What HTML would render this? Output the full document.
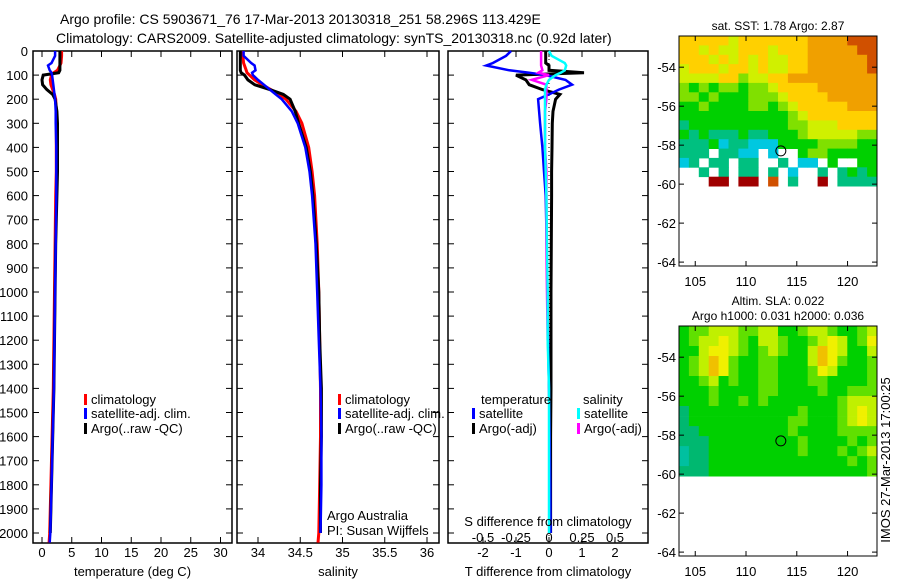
<!DOCTYPE html>
<html><head><meta charset="utf-8">
<style>
body{margin:0;background:#fff;}
svg{display:block;font-family:"Liberation Sans",sans-serif;}
text{font-size:13px;fill:#000;}
</style></head>
<body>
<svg id="fig" width="900" height="580" viewBox="0 0 900 580">
<text x="60" y="24" style="font-size:14px">Argo profile: CS 5903671_76 17-Mar-2013 20130318_251 58.296S 113.429E</text>
<text x="56" y="43" style="font-size:14px">Climatology: CARS2009. Satellite-adjusted climatology: synTS_20130318.nc (0.92d later)</text>
<g id="plots"></g>
</svg>
<script>
// ---------- profile data ----------
const depthT = [0,20,50,60,80,90,100,120,140,160,180,200,250,300,400,500,600,800,1000,1200,1400,1600,1800,2000,2040];
const tempClim = [3.3,3.3,3.2,3.0,2.6,2.0,1.6,1.4,1.5,1.8,2.1,2.3,2.4,2.4,2.4,2.4,2.3,2.2,2.1,2.0,1.9,1.7,1.5,1.3,1.2];
const tempSat  = [2.2,2.2,1.6,1.0,1.3,1.6,1.7,1.8,1.9,2.0,2.1,2.2,2.3,2.3,2.4,2.4,2.4,2.3,2.2,2.1,2.0,1.8,1.6,1.4,1.3];
const tempArgo = [3.0,3.0,3.0,3.0,3.0,2.8,0.2,0.0,0.1,0.8,1.8,2.2,2.5,2.6,2.6,2.6,2.5,2.3,2.2,2.1,2.0,1.8,1.6,1.4,null];
const salClim = [33.82,33.82,33.83,33.84,33.86,33.87,33.9,33.96,34.05,34.15,34.25,34.33,34.45,34.52,34.6,34.64,34.67,34.7,34.72,34.73,34.74,34.74,34.73,34.72,34.71];
const salSat  = [33.83,33.83,33.92,33.96,33.97,33.93,33.94,34.0,34.07,34.14,34.21,34.28,34.4,34.47,34.56,34.61,34.64,34.68,34.7,34.72,34.74,34.75,34.75,34.74,null];
const salArgo = [33.79,33.79,33.79,33.79,33.79,33.8,33.84,33.88,33.96,34.14,34.3,34.38,34.44,34.48,34.57,34.62,34.65,34.69,34.72,34.73,34.75,34.75,34.74,34.74,null];
const dTsat  = [-1.15,-1.3,-1.7,-1.9,-1.2,-0.6,-0.1,0.5,0.7,0.3,0.0,-0.33,-0.3,-0.27,-0.2,-0.15,-0.1,-0.07,-0.05,-0.03,0.0,0.02,0.04,0.05,null];
const dTargo = [-0.1,-0.1,-0.1,0.0,0.0,1.06,-1.0,-0.7,-0.6,-0.2,0.33,0.2,0.12,0.1,0.09,0.08,0.08,0.07,0.06,0.06,0.06,0.05,0.05,0.05,null];
const dSsat  = [0.0,0.02,0.12,0.13,0.12,0.09,0.05,0.0,-0.02,-0.03,-0.03,-0.03,-0.03,-0.03,-0.03,-0.025,-0.02,-0.015,-0.01,-0.01,0.0,0.0,0.0,0.0,null];
const dSargo = [-0.06,-0.06,-0.06,-0.06,-0.05,-0.08,0.0,-0.13,-0.02,-0.02,-0.02,-0.02,-0.03,-0.03,-0.03,-0.02,-0.02,-0.02,-0.015,-0.01,null,null,null,null,null];
const depthTicks = [0,100,200,300,400,500,600,700,800,900,1000,1100,1200,1300,1400,1500,1600,1700,1800,1900,2000];
const tempTicks = [0,5,10,15,20,25,30];
const salTicks = [34,34.5,35,35.5,36];
const salTickLabels = ["34","34.5","35","35.5","36"];
const dTTicks = [-2,-1,0,1,2];
const dSTicks = [-0.5,-0.25,0,0.25,0.5];
const dSTickLabels = ["-0.5","-0.25","0","0.25","0.5"];
// ---------- map data (0-9 colour levels, '.' = missing) ----------
const sstRows = [
"66666566666667777888","66565566656667777788","66656565655667777778","56665665655667777778",
"55556645566777777777","43434434456666777777","44343334445666677777","33433334434566666777",
"33333333333456666666","23333333333445556666","32322232233345555544","22231221113333444433",
"222.2211.1..34433333","12.22.22..2.11.3..33","..2.2.22.2.1..2.2323","...99.99.8.2..9.2222"];
const slaRows = [
"34455544553345543345","34556543554334565346","33566543454335765335","34576433443335764334",
"34576433443334653334","33453433443334433334","33343333443333433444","33343343433333334555",
"23333333333343334565","23333333333443334565","22333333333433334444","22233333333343333434",
"12233333333343334345","12233333333333333434","22233333333333333334"];
const mapLonTicks = [105,110,115,120];
const mapLatTicks = [-54,-56,-58,-60,-62,-64];
const argoLon = 113.429, argoLat = -58.296;

const NS="http://www.w3.org/2000/svg";
const root=document.getElementById('plots');
function mk(tag,attrs,parent){const e=document.createElementNS(NS,tag);for(const k in attrs)e.setAttribute(k,attrs[k]);(parent||root).appendChild(e);return e;}
function txt(x,y,s,anchor,parent,size){const t=mk('text',{x:x,y:y,'text-anchor':anchor||'start'},parent);if(size)t.style.fontSize=size+'px';t.textContent=s;return t;}

const yTop=51,yBot=543;
const yD=d=>51+d*0.241;

function panel(name,x0,x1,xs,ticks,labels,title){
  const g=mk('g',{});
  
  
  mk('rect',{x:x0,y:yTop,width:x1-x0,height:yBot-yTop,fill:'none',stroke:'#000','stroke-width':1.5},g);
  ticks.forEach((t,i)=>{const x=xs(t);
    mk('line',{x1:x,x2:x,y1:yBot,y2:yBot-6,stroke:'#000'},g);
    mk('line',{x1:x,x2:x,y1:yTop,y2:yTop+6,stroke:'#000'},g);
    const l=txt(x,557,labels[i],'middle',g);
    
    
  });
  depthTicks.forEach(d=>{mk('line',{x1:x0,x2:x0+6,y1:yD(d),y2:yD(d),stroke:'#000'},g);mk('line',{x1:x1,x2:x1-6,y1:yD(d),y2:yD(d),stroke:'#000'},g);});
  const t=txt((x0+x1)/2,576,title,'middle',g);
  
  
  return g;
}
function line(g,vals,xs,col,w,name,dash){
  let d='',pen=false;
  vals.forEach((v,i)=>{if(v===null){pen=false;return;}d+=(pen?'L':'M')+xs(v).toFixed(1)+' '+yD(depthT[i]).toFixed(1);pen=true;});
  const p=mk('path',{d:d,fill:'none',stroke:col,'stroke-width':w},g);
  if(dash)p.setAttribute('stroke-dasharray',dash);
  
  
}
function legend(g,x,y,col,label){
  mk('rect',{x:x,y:y-10,width:3,height:11,fill:col},g);
  const t=txt(x+7,y,label,'start',g);
  
  
}
depthTicks.forEach(d=>{const t=txt(28,yD(d)+5,String(d),'end');
  
  });

const xT=v=>42+v*5.95;
const g1=panel('temperature-panel',33,232,xT,tempTicks,tempTicks.map(String),'temperature (deg C)');
line(g1,tempClim,xT,'#f00',3,'temperature-climatology-line');
line(g1,tempArgo,xT,'#000',3,'temperature-argo-line');
line(g1,tempSat,xT,'#00f',2.5,'temperature-satellite-line');
legend(g1,84,404,'#f00','climatology');legend(g1,84,418,'#00f','satellite-adj. clim.');legend(g1,84,433,'#000','Argo(..raw -QC)');

const xS=v=>258+(v-34)*84.5;
const g2=panel('salinity-panel',237,439,xS,salTicks,salTickLabels,'salinity');
line(g2,salClim,xS,'#f00',3,'salinity-climatology-line');
line(g2,salArgo,xS,'#000',3,'salinity-argo-line');
line(g2,salSat,xS,'#00f',2.5,'salinity-satellite-line');
legend(g2,338,404,'#f00','climatology');legend(g2,338,418,'#00f','satellite-adj. clim.');legend(g2,338,433,'#000','Argo(..raw -QC)');
txt(327,520,'Argo Australia','start',g2);txt(327,535,'PI: Susan Wijffels','start',g2);

const xdT=v=>549+v*33, xdS=v=>549+v*132;
const g3=panel('difference-panel',448,648,xdT,dTTicks,dTTicks.map(String),'T difference from climatology');
mk('line',{x1:549,x2:549,y1:yTop,y2:yBot,stroke:'#000','stroke-dasharray':'1 3'},g3);
line(g3,dTargo,xdT,'#000',3,'temp-diff-argo-line');
line(g3,dTsat,xdT,'#00f',2.5,'temp-diff-satellite-line');
line(g3,dSargo,xdS,'#f0f',2.5,'sal-diff-argo-line');
line(g3,dSsat,xdS,'#0ff',2.5,'sal-diff-satellite-line');
txt(481,404,'temperature','start',g3);txt(583,404,'salinity','start',g3);
legend(g3,472,418,'#00f','satellite');legend(g3,472,433,'#000','Argo(-adj)');
legend(g3,577,418,'#0ff','satellite');legend(g3,577,433,'#f0f','Argo(-adj)');
txt(548,526,'S difference from climatology','middle',g3);
dSTicks.forEach((v,i)=>{txt(xdS(v),542,dSTickLabels[i],'middle',g3);});

const levelCol=['#0040d0','#00c8e0','#00c080','#00d000','#80e000','#d0f000','#ffd000','#f0a000','#d05000','#a00000'];
const slaCol=['#00c080','#00c0a0','#00b870','#00d000','#60e000','#c0f000','#f0f000','#f0c000','#e08000','#c00000'];
function map(name,y0,rows,cols,titleLines){
  const g=mk('g',{});
  
  
  const x0=679,x1=877,y1=y0+230;
  const lonL=103.4,lonR=122.9,latT=-52.4,latB=-64.2,latData=-60.1;
  const xL=v=>x0+(v-lonL)/(lonR-lonL)*(x1-x0);
  const yL=v=>y0+(latT-v)/(latT-latB)*(y1-y0);
  const nr=rows.length,nc=rows[0].length;
  const dLat=(latT-latData)/nr,dLon=(lonR-lonL)/nc;
  rows.forEach((r,i)=>{for(let j=0;j<nc;j++){const c=r[j];if(c==='.')continue;
    const xa=xL(lonL+j*dLon),xb=xL(lonL+(j+1)*dLon),ya=yL(latT-i*dLat),yb=yL(latT-(i+1)*dLat);
    const cell=mk('rect',{x:xa.toFixed(1),y:ya.toFixed(1),width:(xb-xa+0.4).toFixed(1),height:(yb-ya+0.4).toFixed(1),fill:cols[+c]},g);
    
    
  }});
  mk('rect',{x:x0,y:y0,width:x1-x0,height:y1-y0,fill:'none',stroke:'#000'},g);
  mapLonTicks.forEach(v=>{const x=xL(v);mk('line',{x1:x,x2:x,y1:y1,y2:y1-5,stroke:'#000'},g);mk('line',{x1:x,x2:x,y1:y0,y2:y0+5,stroke:'#000'},g);txt(x,y1+20,String(v),'middle',g);});
  mapLatTicks.forEach(v=>{const y=yL(v);mk('line',{x1:x0,x2:x0+5,y1:y,y2:y,stroke:'#000'},g);mk('line',{x1:x1,x2:x1-5,y1:y,y2:y,stroke:'#000'},g);txt(x0-3,y+5,String(v),'end',g);});
  const m=mk('circle',{cx:xL(argoLon),cy:yL(argoLat),r:5,fill:'none',stroke:'#000'},g);
  
  
  titleLines.forEach((s,i)=>{const t=txt(778,y0-(titleLines.length-1-i)*15-6,s,'middle',g,12);
    
    });
}
map('sst-map',36,sstRows,levelCol,['sat. SST: 1.78 Argo: 2.87']);
map('sla-map',326,slaRows,slaCol,['Altim. SLA: 0.022','Argo h1000: 0.031 h2000: 0.036']);
const st=txt(0,0,'IMOS 27-Mar-2013 17:00:25','middle',null,13);
st.setAttribute('transform','translate(890,460) rotate(-90)');


</script>
</body></html>
